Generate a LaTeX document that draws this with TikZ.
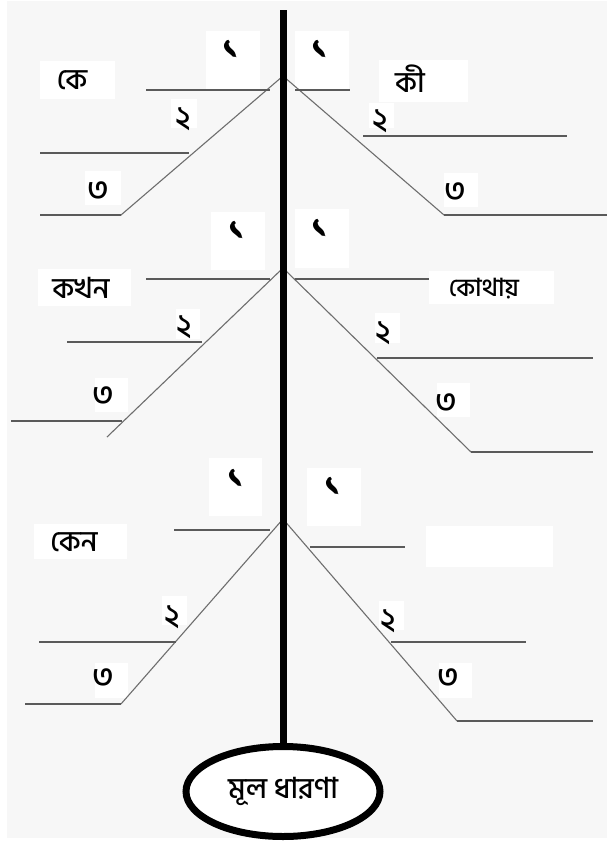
\documentclass[tikz,border=0pt]{standalone}
\usepackage{fontspec}
\newfontfamily\bn[Script=Bengali, UprightFont=* Medium]{Hind Siliguri}
\usetikzlibrary{shapes.geometric}
\definecolor{bg}{HTML}{F7F7F7}
\definecolor{hline}{HTML}{5A5A5A}
\definecolor{dline}{HTML}{6E6E6E}
\newcommand\mkbox[5]{\node[wbox, minimum width={#4-#2}, minimum height={#5-#3}] (#1) at ({(#2+#4)/2},{(#3+#5)/2}) {};}
\begin{document}
\begin{tikzpicture}[x=1pt,y=-1pt,
  wbox/.style={fill=white, draw=none, inner sep=0pt, outer sep=0pt},
  lbl/.style={font=\bn\fontsize{29}{30}\selectfont, inner sep=0pt},
  num/.style={font=\bn\fontsize{32}{34}\selectfont, inner sep=0pt},
  numone/.style={font=\bn\fontsize{40}{42}\selectfont, inner sep=0pt},
  hl/.style={draw=hline, line width=1.5pt},
  dl/.style={draw=dline, line width=1.1pt},
  spine/.style={line width=7pt, draw=black},
  root/.style={ellipse, draw=black, fill=white, line width=7pt, minimum width=194pt, minimum height=90pt, inner sep=0pt, font=\bn\fontsize{29}{31}\selectfont}]
\useasboundingbox (0,0) rectangle (607,844);
\fill[bg] (7,1) rectangle (607,838);

% ---------- white boxes ----------
% top
\mkbox{b1L}{206}{31}{260}{89}
\mkbox{b1R}{295}{31}{349}{89}
\mkbox{bKe}{40}{61}{115}{99}
\mkbox{bKi}{379}{60}{468}{102}
\mkbox{b2L}{171}{99}{197}{128}
\mkbox{b2R}{369}{103}{394}{128}
\mkbox{b3L}{85}{171}{121}{205}
\mkbox{b3R}{444}{173}{478}{207}
% middle
\mkbox{m1L}{211}{212}{265}{270}
\mkbox{m1R}{295}{209}{349}{268}
\mkbox{mKk}{38}{269}{131}{306}
\mkbox{mKt}{429}{271}{554}{304}
\mkbox{m2L}{176}{309}{200}{339}
\mkbox{m2R}{375}{313}{400}{343}
\mkbox{m3L}{95}{378}{128}{412}
\mkbox{m3R}{437}{383}{470}{417}
% bottom
\mkbox{c1L}{209}{458}{262}{516}
\mkbox{c1R}{307}{468}{361}{526}
\mkbox{cKn}{34}{524}{127}{559}
\mkbox{cEm}{426}{526}{553}{567}
\mkbox{c2L}{162}{596}{187}{625}
\mkbox{c2R}{379}{601}{404}{630}
\mkbox{c3L}{95}{663}{128}{698}
\mkbox{c3R}{439}{663}{472}{698}

% ---------- coordinates ----------
% top
\coordinate (T) at (283,76);
\coordinate (TLd) at (121,215); \coordinate (TLb) at (40,215);
\coordinate (TL2a) at (40,153); \coordinate (TL2b) at (189,153);
\coordinate (TL1a) at (146,90); \coordinate (TL1b) at (270,90);
\coordinate (TRd) at (444,215); \coordinate (TRb) at (607,215);
\coordinate (TR2a) at (363,136); \coordinate (TR2b) at (567,136);
\coordinate (TR1a) at (295,90); \coordinate (TR1b) at (350,90);
% middle
\coordinate (M) at (283,268);
\coordinate (MLd) at (107,437);
\coordinate (ML3a) at (11,421); \coordinate (ML3b) at (122,421);
\coordinate (ML2a) at (67,342); \coordinate (ML2b) at (202,342);
\coordinate (ML1a) at (146,279); \coordinate (ML1b) at (270,279);
\coordinate (MRd) at (471,452); \coordinate (MRb) at (593,452);
\coordinate (MR2a) at (377,358); \coordinate (MR2b) at (593,358);
\coordinate (MR1a) at (295,279); \coordinate (MR1b) at (429,279);
% bottom
\coordinate (B) at (283,519);
\coordinate (BLd) at (121,704); \coordinate (BLb) at (25,704);
\coordinate (BL2a) at (39,642); \coordinate (BL2b) at (176,642);
\coordinate (BL1a) at (174,530); \coordinate (BL1b) at (270,530);
\coordinate (BRd) at (457,721); \coordinate (BRb) at (593,721);
\coordinate (BR2a) at (391,642); \coordinate (BR2b) at (526,642);
\coordinate (BR1a) at (310,547); \coordinate (BR1b) at (405,547);

% ---------- lines ----------
\draw[dl] (TLb) -- (TLd) -- (T) -- (TRd);
\draw[hl] (TLb) -- (TLd);
\draw[hl] (TRd) -- (TRb);
\draw[hl] (TL2a) -- (TL2b);
\draw[hl] (TL1a) -- (TL1b);
\draw[hl] (TR2a) -- (TR2b);
\draw[hl] (TR1a) -- (TR1b);

\draw[dl] (MLd) -- (M) -- (MRd);
\draw[hl] (MRd) -- (MRb);
\draw[hl] (ML3a) -- (ML3b);
\draw[hl] (ML2a) -- (ML2b);
\draw[hl] (ML1a) -- (ML1b);
\draw[hl] (MR2a) -- (MR2b);
\draw[hl] (MR1a) -- (MR1b);

\draw[dl] (BLd) -- (B) -- (BRd);
\draw[hl] (BLb) -- (BLd);
\draw[hl] (BRd) -- (BRb);
\draw[hl] (BL2a) -- (BL2b);
\draw[hl] (BL1a) -- (BL1b);
\draw[hl] (BR2a) -- (BR2b);
\draw[hl] (BR1a) -- (BR1b);

% ---------- root and spine ----------
\node[root] (root) at (283,791.5) {মূল ধারণা};
\coordinate (top) at (283,10);
\draw[spine] (top) -- (root.north);

% ---------- texts ----------
\node[lbl] (tKe) at (72,80) {কে};
\node[lbl] (tKi) at (410,79) {কী};
\node[lbl] (tKk) at (81,288) {কখন};
\node[lbl, font=\bn\fontsize{25}{27}\selectfont] (tKt) at (484,289) {কোথায়};
\node[lbl] (tKn) at (74,542) {কেন};

\node[numone] (n1) at (232,50) {১};
\node[numone] (n2) at (321,50) {১};
\node[num] (n3) at (183,119) {২};
\node[num] (n4) at (380,121) {২};
\node[num] (n5) at (98,191) {৩};
\node[num] (n6) at (455,192) {৩};

\node[numone] (n7) at (238,231) {১};
\node[numone] (n8) at (321,229) {১};
\node[num] (n9) at (184,327) {২};
\node[num] (n10) at (383,333) {২};
\node[num] (n11) at (103.5,396) {৩};
\node[num] (n12) at (446,403) {৩};

\node[numone] (n13) at (237,479) {১};
\node[numone] (n14) at (334,487) {১};
\node[num] (n15) at (172,617) {২};
\node[num] (n16) at (388,621) {২};
\node[num] (n17) at (103.5,678) {৩};
\node[num] (n18) at (448,678) {৩};
\end{tikzpicture}
\end{document}
